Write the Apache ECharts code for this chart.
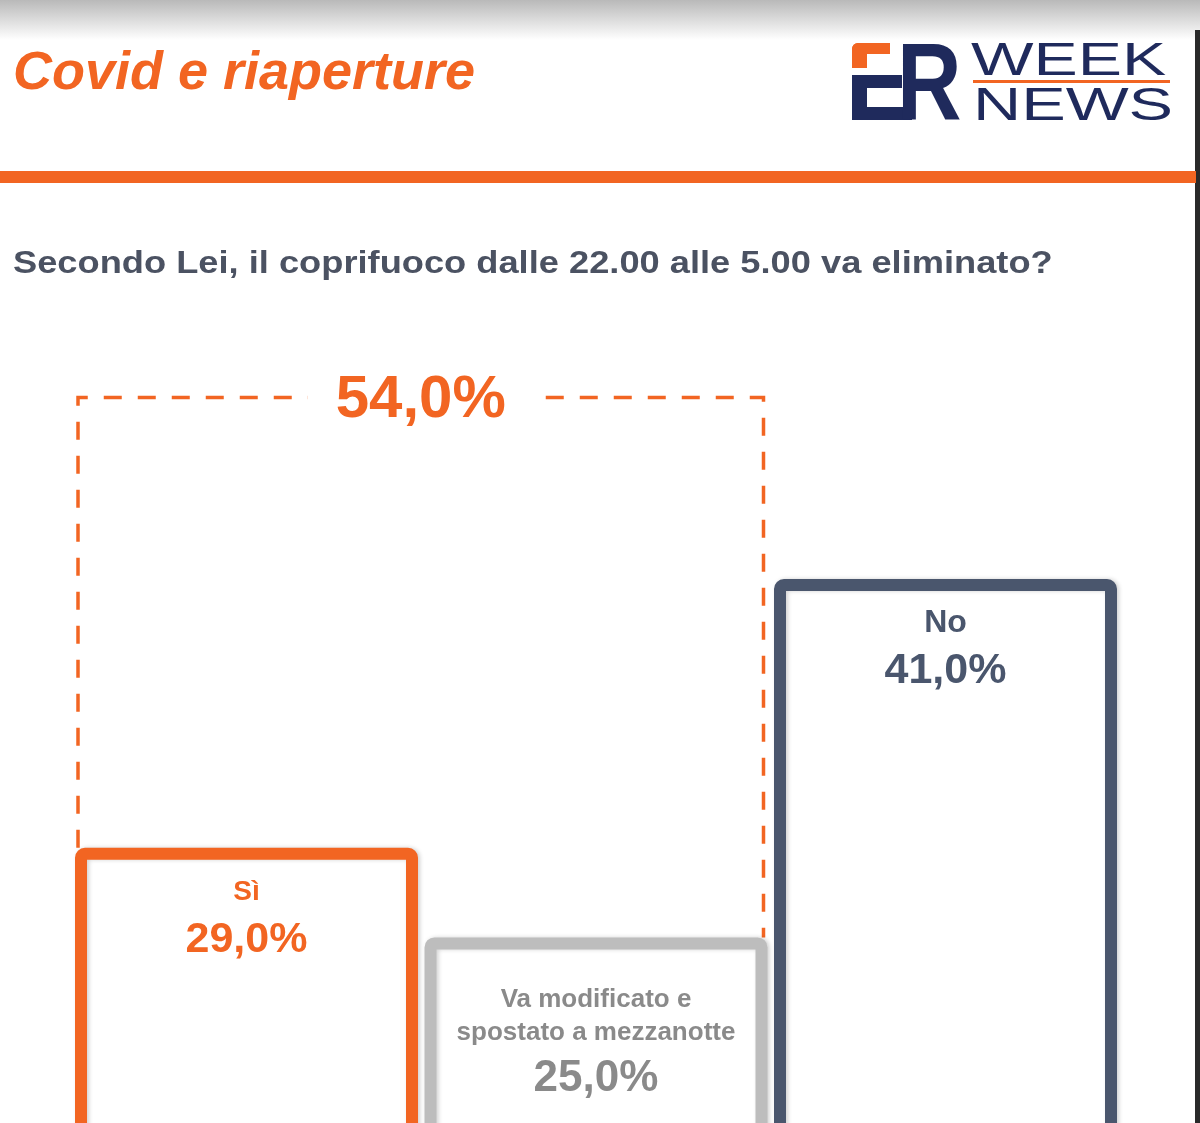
<!DOCTYPE html>
<html>
<head>
<meta charset="utf-8">
<script src="https://cdn.jsdelivr.net/npm/echarts@6/dist/echarts.min.js"></script>
<style>html,body{margin:0;padding:0;background:#fff;}#chart{width:1200px;height:1123px;}</style>
</head>
<body>
<div id="chart"></div>
<script>
// ---- data ----
const categories = ['Sì', 'Va modificato e\nspostato a mezzanotte', 'No'];
const values = [29.0, 25.0, 41.0];
const combinedIdx = [0, 1];
const combinedValue = 54.0;
const bracketLevel = 49.1;
const titleText = 'Covid e riaperture';
const questionText = 'Secondo Lei, il coprifuoco dalle 22.00 alle 5.00 va eliminato?';

// ---- styles ----
const ORANGE = '#f26522';
const SLATE = '#4a566d';
const GRAY = '#bdbdbd';
const GRAYTXT = '#8a8a8a';
const NAVY = '#1f2a5c';
const BAR_W = 343;
const BORDER = 12;
const FONT = '"Liberation Sans", Arial, sans-serif';

const fmt = v => v.toFixed(1).replace('.', ',') + '%';

const styles = [
  {border: ORANGE, text: ORANGE, nameSize: 28, nameLH: 40, valSize: 43, valLH: 56, dist: 24, weight: 'bold', valWeight: 'bold'},
  {border: GRAY, text: GRAYTXT, nameSize: 26, nameLH: 33, valSize: 44, valLH: 59, dist: 46, weight: 600, valWeight: 600},
  {border: SLATE, text: SLATE, nameSize: 32, nameLH: 40, valSize: 43, valLH: 56, dist: 24, weight: 'bold', valWeight: 'bold'}
];

const barData = values.map((v, i) => {
  const s = styles[i];
  return {
    value: v,
    itemStyle: {color: '#ffffff', borderColor: s.border, borderWidth: BORDER, borderRadius: 4,
      shadowBlur: 4, shadowColor: 'rgba(0,0,0,0.18)', shadowOffsetX: 2, shadowOffsetY: 0},
    label: {
      show: true, position: 'insideTop', distance: s.dist,
      formatter: p => '{n|' + categories[p.dataIndex] + '}\n{v|' + fmt(p.value) + '}',
      rich: {
        n: {fontFamily: FONT, fontSize: s.nameSize, fontWeight: s.weight, color: s.text, lineHeight: s.nameLH, align: 'center'},
        v: {fontFamily: FONT, fontSize: s.valSize, fontWeight: s.valWeight, color: s.text, lineHeight: s.valLH, align: 'center'}
      }
    }
  };
});

const chart = echarts.init(document.getElementById('chart'), null, {renderer: 'canvas'});

const option = {
  animation: false,
  backgroundColor: '#ffffff',
  grid: {left: 71.75, right: 79.75, top: 153.4, bottom: -16, outerBoundsMode: 'none', containLabel: false},
  xAxis: {type: 'category', data: categories, show: false},
  yAxis: {type: 'value', min: 16, max: 60, show: false},
  series: [
    {
      type: 'custom',
      z: 1,
      data: [[combinedIdx[0], combinedIdx[1], bracketLevel, combinedValue]],
      renderItem: function (params, api) {
        const a = api.value(0), b = api.value(1), lvl = api.value(2);
        const pA = api.coord([a, lvl]);
        const pB = api.coord([b, lvl]);
        const half = BAR_W / 2;
        const xl = pA[0] - half + 3;
        const xr = pB[0] + half - 4;
        const top = pA[1];
        const yl = api.coord([a, values[a]])[1];
        const yr = api.coord([b, values[b]])[1];
        return {
          type: 'group',
          children: [
            {type: 'polyline', shape: {points: [[xl, yl], [xl, top], [xr, top], [xr, yr]]},
              style: {stroke: ORANGE, lineWidth: 3.5, lineDash: [18, 16], fill: null}},
            {type: 'text', style: {text: fmt(api.value(3)), x: (xl + xr) / 2, y: top + 3,
              fill: ORANGE, font: 'bold 60px ' + FONT, align: 'center', verticalAlign: 'middle',
              backgroundColor: '#ffffff', padding: [6, 28]}}
          ]
        };
      }
    },
    {
      type: 'bar',
      z: 2,
      barWidth: BAR_W,
      data: barData
    }
  ],
  graphic: [
    {type: 'rect', shape: {x: 0, y: 0, width: 1200, height: 40},
      style: {fill: new echarts.graphic.LinearGradient(0, 0, 0, 1, [{offset: 0, color: '#b9b9b9'}, {offset: 1, color: '#ffffff'}])}},
    {type: 'rect', shape: {x: 1195, y: 30, width: 5, height: 1093}, style: {fill: '#2a2a2a'}},
    {type: 'text', x: 13, y: 74, style: {text: titleText, font: 'italic 600 54px ' + FONT, fill: ORANGE, verticalAlign: 'middle'}},
    // logo
    {type: 'rect', shape: {x: 852, y: 43, width: 38, height: 11, r: [6, 0, 0, 0]}, style: {fill: ORANGE}},
    {type: 'rect', shape: {x: 852, y: 43, width: 15, height: 25, r: [6, 0, 0, 0]}, style: {fill: ORANGE}},
    {type: 'rect', shape: {x: 852, y: 75, width: 15, height: 45}, style: {fill: NAVY}},
    {type: 'rect', shape: {x: 852, y: 75, width: 50, height: 13}, style: {fill: NAVY}},
    {type: 'rect', shape: {x: 852, y: 107, width: 60, height: 13}, style: {fill: NAVY}},
    {type: 'text', x: 897, y: 90, scaleX: 0.82, style: {text: 'R', font: 'bold 109px ' + FONT, fill: NAVY, verticalAlign: 'middle'}},
    {type: 'text', x: 971, y: 62, scaleX: 1.44, style: {text: 'WEEK', font: '46px ' + FONT, fill: NAVY, verticalAlign: 'middle'}},
    {type: 'rect', shape: {x: 973, y: 80, width: 197, height: 3}, style: {fill: ORANGE}},
    {type: 'text', x: 973, y: 107, scaleX: 1.45, style: {text: 'NEWS', font: '46px ' + FONT, fill: NAVY, verticalAlign: 'middle'}},
    {type: 'rect', shape: {x: 0, y: 171, width: 1196, height: 12}, style: {fill: ORANGE}},
    {type: 'text', x: 13, y: 264, scaleX: 1.133, style: {text: questionText, font: 'bold 32px ' + FONT, fill: '#4b5262', verticalAlign: 'middle'}}
  ]
};
chart.setOption(option);
</script>
</body>
</html>
